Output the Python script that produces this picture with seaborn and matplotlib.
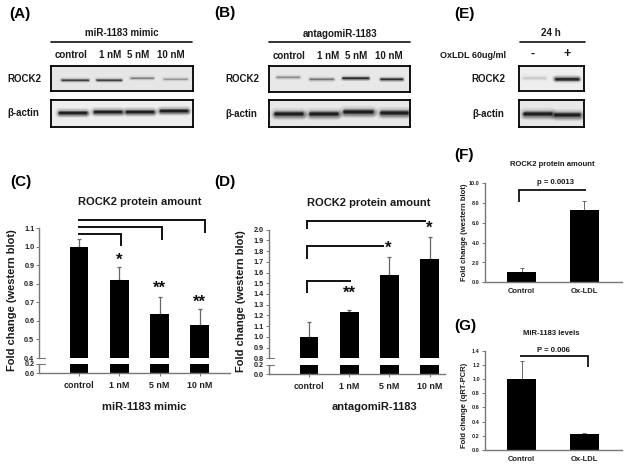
import pandas as pd
import seaborn as sns
import matplotlib.pyplot as plt

W, H = 629, 469

doses = ['control', '1 nM', '5 nM', '10 nM']
mimic_fold = [1.0, 0.82, 0.635, 0.58]
mimic_top = [1.04, 0.89, 0.73, 0.665]
antago_fold = [1.0, 1.23, 1.58, 1.73]
antago_top = [1.14, 1.25, 1.745, 1.93]

groups = ['Control', 'Ox-LDL']
rock2_fold = [1.0, 7.3]
rock2_top = [1.4, 8.2]
mir_fold = [1.0, 0.22]
mir_top = [1.25, 0.24]

# band darkness on the blots, one per lane
a_rock2 = [0.7, 0.7, 0.35, 0.25]
a_actin = [1.0, 1.0, 1.0, 1.0]
b_rock2 = [0.3, 0.4, 0.9, 0.85]
b_actin = [1.0, 1.0, 1.0, 1.0]
e_rock2 = [0.1, 1.0]
e_actin = [1.0, 1.0]

sns.set_theme(style='white')
plt.rcParams['font.family'] = ['Liberation Sans', 'DejaVu Sans']
plt.rcParams['font.weight'] = 'bold'

fig = plt.figure(figsize=(W / 100, H / 100), dpi=100, facecolor='white')


def px_axes(x0, y0, x1, y1):
    return fig.add_axes([x0 / W, 1 - y1 / H, (x1 - x0) / W, (y1 - y0) / H])


def label(x, y, s, size=7, ha='center', rotation=0, color='#1a1a1a'):
    fig.text(x / W, 1 - y / H, s, fontsize=size, ha=ha, va='center',
             rotation=rotation, color=color, fontweight='bold')


def blot(x0, y0, x1, y1, lanes, ys, widths, dark, bg, thick):
    ax = px_axes(x0, y0, x1, y1)
    ax.set_facecolor(bg)
    ax.set_xlim(x0, x1)
    ax.set_ylim(y1, y0)
    ax.set_xticks([])
    ax.set_yticks([])
    for s in ax.spines.values():
        s.set_linewidth(1.3)
        s.set_color('black')
    for x, y, w, d in zip(lanes, ys, widths, dark):
        for mult, a in [(3.2, 0.07), (2.4, 0.14), (1.7, 0.25), (1.1, 0.45), (0.6, 0.6)]:
            ax.plot([x - w / 2, x + w / 2], [y, y], color='black', lw=thick * mult,
                    alpha=a * d, solid_capstyle='round')


def bars(ax, cats, vals, width):
    df = pd.DataFrame({'cat': cats, 'fold': vals})
    sns.barplot(data=df, x='cat', y='fold', color='black', saturation=1,
                width=width, linewidth=0, ax=ax)
    ax.set_xlabel('')
    ax.set_ylabel('')


def whiskers(ax, vals, tops, lw=0.9):
    up = [t - v for t, v in zip(tops, vals)]
    # kept behind the bars so the lower cap does not show on the bar top
    ax.errorbar(range(len(vals)), vals, yerr=[[0] * len(vals), up], fmt='none',
                ecolor='#666666', elinewidth=lw, capsize=1.5, capthick=lw, zorder=0.5)


def style(ax, size):
    sns.despine(ax=ax)
    ax.set_facecolor('none')
    for s in ['left', 'bottom']:
        ax.spines[s].set_color('#777777')
        ax.spines[s].set_linewidth(1)
    ax.tick_params(axis='y', left=True, length=2.2, width=0.7, color='#777777',
                   labelsize=size, pad=1.5, labelcolor='#222222')


def broken(left, right, y_break_low, y1, y_break_high, y_top, vals, tops,
           upper_lim, upper_ticks, upper_labels, centers):
    step = centers[1] - centers[0]
    lim = ((left - centers[0]) / step, (right - centers[0]) / step)

    up = px_axes(left, y_top, right, y_break_high)
    bars(up, doses, vals, 0.47)
    whiskers(up, vals, tops)
    up.set_xlim(lim)
    up.set_ylim(upper_lim)
    up.set_yticks(upper_ticks)
    up.set_yticklabels(upper_labels)
    style(up, 5.2)
    up.spines['bottom'].set_visible(False)
    up.set_xticks([])

    low = px_axes(left, y_break_low, right, y1)
    bars(low, doses, vals, 0.47)
    low.set_xlim(lim)
    low.set_ylim(0, 0.2)
    low.set_yticks([0.0, 0.2])
    low.set_yticklabels(['0.0', '0.2'])
    style(low, 5.2)
    low.tick_params(axis='x', bottom=True, length=2, width=0.7, color='#777777',
                    labelsize=6.4, pad=3.5, labelcolor='#222222')

    # little break marks on the y axis
    for ax, yv in [(up, upper_lim[0]), (low, 0.2)]:
        ax.plot([0, 0.03], [yv, yv], transform=ax.get_yaxis_transform(),
                color='#777777', lw=0.8, clip_on=False)
    return up


def bracket(ax, xs, ys, lw=1.4):
    ax.plot(xs, ys, color='#111111', lw=lw, clip_on=False,
            solid_joinstyle='miter', solid_capstyle='butt')


def stars(ax, x, y, s, size=12):
    ax.text(x, y, s, fontsize=size, ha='center', va='center', color='#111111',
            fontweight='bold', clip_on=False)


# ---- western blots
blot(50.7, 65.7, 192.5, 91.3, [75, 109, 141.5, 175], [80.5, 80, 78.5, 79],
     [26, 24, 22, 23], a_rock2, '#e6e6e6', 1.3)
blot(50.7, 99.7, 192.5, 126.7, [73, 107.5, 140, 174], [113, 112.5, 112, 111],
     [26, 26, 26, 26], a_actin, '#eeeeee', 2.3)
blot(268.5, 66, 410.3, 91.7, [288, 321.7, 355.7, 391.7], [77.5, 79, 78, 79],
     [22, 23, 25, 21], b_rock2, '#e8e8e8', 1.4)
blot(268.5, 100, 410.3, 127, [289.3, 324, 358.3, 394], [114, 114, 112, 112.5],
     [26, 26, 27, 25], b_actin, '#e8e8e8', 2.8)
blot(518.7, 65.7, 583.7, 91.3, [534.3, 567.3], [78.5, 79], [21, 22], e_rock2,
     '#eeeeee', 1.9)
blot(518.7, 100, 583.7, 127, [537.7, 567.3], [113.5, 114.5], [26, 23], e_actin,
     '#e8e8e8', 2.8)

# ---- panels C and D
c_ticks = [0.4, 0.5, 0.6, 0.7, 0.8, 0.9, 1.0, 1.1]
c_up = broken(39.5, 230, 364, 373, 358, 228.3, mimic_fold, mimic_top,
              (0.4, 1.1), c_ticks, ['%.1f' % t for t in c_ticks],
              [79, 119.3, 159.7, 200])
bracket(c_up, [-0.02, 3.12, 3.12], [1.144, 1.144, 1.076])
bracket(c_up, [-0.02, 2.07, 2.07], [1.108, 1.108, 1.038])
bracket(c_up, [-0.02, 1.03, 1.03], [1.07, 1.07, 1.005])
stars(c_up, 1, 0.93, '*')
stars(c_up, 2, 0.775, '**')
stars(c_up, 3, 0.70, '**')

d_ticks = [0.8, 0.9, 1.0, 1.1, 1.2, 1.3, 1.4, 1.5, 1.6, 1.7, 1.8, 1.9, 2.0]
d_up = broken(269, 445, 364.5, 374, 358.3, 229.7, antago_fold, antago_top,
              (0.8, 2.0), d_ticks, ['%.1f' % t for t in d_ticks],
              [309, 349.2, 389.4, 429.7])
bracket(d_up, [-0.06, -0.06, 2.92], [2.01, 2.08, 2.08])
bracket(d_up, [-0.06, -0.06, 1.86], [1.725, 1.845, 1.845])
bracket(d_up, [-0.06, -0.06, 1.04], [1.405, 1.52, 1.52])
stars(d_up, 1.0, 1.41, '**')
stars(d_up, 1.98, 1.83, '*')
stars(d_up, 3.0, 2.01, '*')

# ---- panels F and G
f_ax = px_axes(485, 183.3, 621.7, 282.3)
bars(f_ax, groups, rock2_fold, 0.47)
whiskers(f_ax, rock2_fold, rock2_top, lw=0.7)
f_ax.set_xlim(-0.587, 1.595)
f_ax.set_ylim(0, 10)
f_ax.set_yticks([0, 2, 4, 6, 8, 10])
f_ax.set_yticklabels(['0.0', '2.0', '4.0', '6.0', '8.0', '10.0'])
style(f_ax, 4)
f_ax.tick_params(axis='x', bottom=False, length=0, labelsize=5.5, pad=4, labelcolor='#222222')
bracket(f_ax, [-0.05, -0.05, 1.03], [8.08, 9.35, 9.35], lw=1.3)

g_ax = px_axes(485, 350.7, 621.7, 450)
bars(g_ax, groups, mir_fold, 0.47)
whiskers(g_ax, mir_fold, mir_top, lw=0.7)
g_ax.set_xlim(-0.587, 1.595)
g_ax.set_ylim(0, 1.4)
g_ax.set_yticks([0, 0.2, 0.4, 0.6, 0.8, 1.0, 1.2, 1.4])
g_ax.set_yticklabels(['0.0', '0.2', '0.4', '0.6', '0.8', '1.0', '1.2', '1.4'])
style(g_ax, 4)
g_ax.tick_params(axis='x', bottom=False, length=0, labelsize=5.5, pad=4, labelcolor='#222222')
bracket(g_ax, [-0.03, 1.05, 1.05], [1.33, 1.33, 1.166], lw=1.3)

# ---- header rules over the blots
rules = px_axes(0, 0, W, H)
rules.set_xlim(0, W)
rules.set_ylim(H, 0)
rules.axis('off')
rules.patch.set_alpha(0)
for x0, x1 in [(50.7, 192), (268.5, 410), (520, 585)]:
    rules.plot([x0, x1], [42.2, 42.2], color='#111111', lw=1.2)

# ---- text
for x, y, s in [(9, 14, '(A)'), (214, 13, '(B)'), (10, 182, '(C)'), (214, 182, '(D)'),
                (454, 14, '(E)'), (454, 155, '(F)'), (454, 326, '(G)')]:
    label(x, y, s, size=11, ha='left', color='black')

label(122, 33, 'miR-1183 mimic')
label(340, 34, 'antagomiR-1183')
label(550.7, 33.5, '24 h')
for x, s in zip([71.3, 110, 137.7, 171], doses):
    label(x, 55.5, s)
for x, s in zip([289, 328.3, 355.7, 389], doses):
    label(x, 56, s)
label(7.3, 78.5, 'ROCK2', ha='left')
label(7.3, 113, 'β-actin', ha='left')
label(225, 79, 'ROCK2', ha='left')
label(225, 114, 'β-actin', ha='left')
label(505.7, 79, 'ROCK2', ha='right')
label(504, 113.5, 'β-actin', ha='right')
label(505.7, 55, 'OxLDL 60ug/ml', size=6.5, ha='right')
label(532.7, 54, '-', size=9)
label(567.3, 53.5, '+', size=9)

label(140, 201.7, 'ROCK2 protein amount', size=8)
label(369, 202.7, 'ROCK2 protein amount', size=8)
label(12, 300, 'Fold change (western blot)', size=8, rotation=90)
label(241, 301, 'Fold change (western blot)', size=8, rotation=90)
label(143.7, 406.7, 'miR-1183 mimic', size=8)
label(374, 406.7, 'antagomiR-1183', size=8)

label(552, 164, 'ROCK2 protein amount', size=5.5)
label(555.7, 182.7, 'p = 0.0013', size=5.6)
label(464, 232.5, 'Fold change (western blot)', size=5.5, rotation=90)
label(551.7, 333, 'MiR-1183 levels', size=5.5)
label(553.7, 350.7, 'P = 0.006', size=5.6)
label(464, 405, 'Fold change (qRT-PCR)', size=5.5, rotation=90)

fig.savefig('out.png', dpi=100)
plt.close(fig)
